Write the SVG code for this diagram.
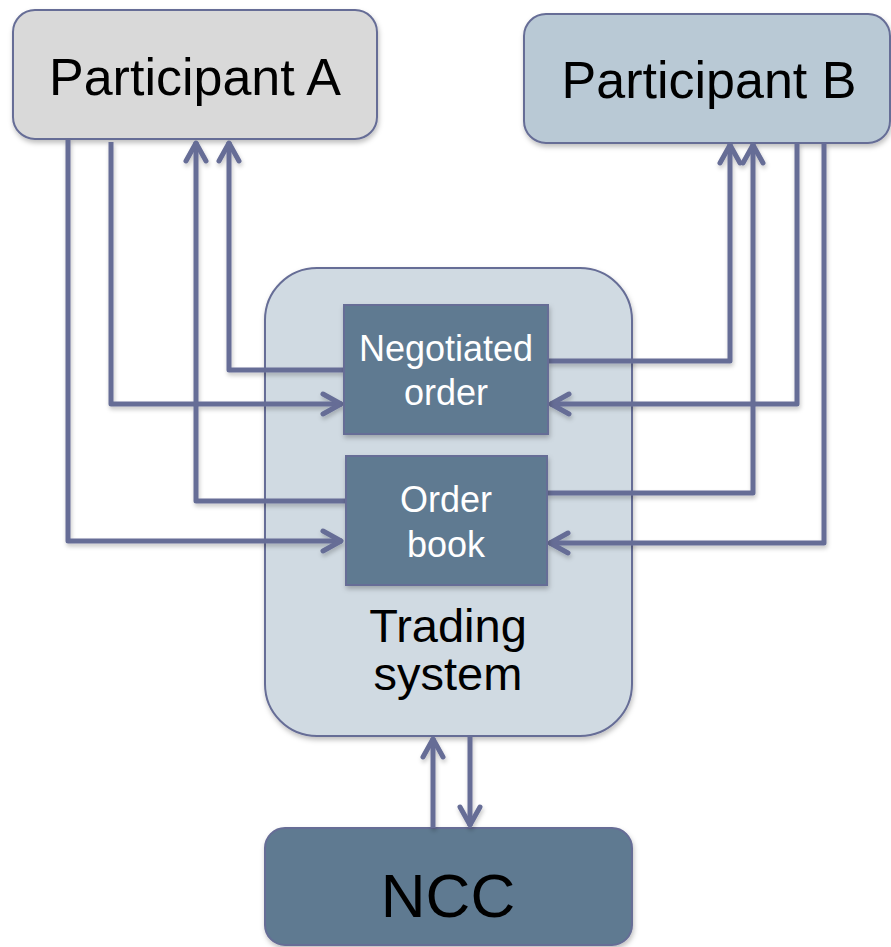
<svg xmlns="http://www.w3.org/2000/svg" width="891" height="947" viewBox="0 0 891 947">
<defs>
<filter id="sh" x="-10%" y="-10%" width="120%" height="130%">
<feDropShadow dx="1" dy="3" stdDeviation="2.5" flood-color="#000" flood-opacity="0.25"/>
</filter>
<filter id="shc" filterUnits="userSpaceOnUse" x="0" y="0" width="891" height="947">
<feDropShadow dx="1" dy="3" stdDeviation="2" flood-color="#000" flood-opacity="0.22"/>
</filter>
<marker id="arr" markerUnits="userSpaceOnUse" markerWidth="30" markerHeight="30" viewBox="-25 -15 30 30" refX="0" refY="0" orient="auto">
<path d="M-19,-10 L-1,0 L-19,10" fill="none" stroke="#666d96" stroke-width="5" stroke-linecap="round" stroke-linejoin="round"/>
</marker>
</defs>
<style>
.box{stroke:#666d96;stroke-width:2;filter:url(#sh)}
.lbl{font-family:"Liberation Sans",Arial,sans-serif;text-anchor:middle}
.conn{filter:url(#shc)}
.conn path{fill:none;stroke:#666d96;stroke-width:5;stroke-linejoin:round}
</style>
<rect width="891" height="947" fill="#ffffff"/>
<g id="trading-system">
<rect class="box" x="265" y="268" width="367" height="468" rx="52" fill="#d0dae2"/>
<text class="lbl" x="448" y="642" font-size="47" fill="#000">Trading</text>
<text class="lbl" x="448" y="690" font-size="47" fill="#000">system</text>
</g>
<g id="participant-a">
<rect class="box" x="13" y="10" width="364" height="129" rx="22" fill="#d9d9d9"/>
<text class="lbl" x="195" y="95" font-size="52" fill="#000">Participant A</text>
</g>
<g id="participant-b">
<rect class="box" x="524" y="14" width="366" height="129" rx="22" fill="#b9c9d5"/>
<text class="lbl" x="709" y="98" font-size="52" fill="#000">Participant B</text>
</g>
<g id="ncc">
<rect class="box" x="265" y="828" width="367" height="117" rx="20" fill="#5e7a91"/>
<text class="lbl" x="448" y="917" font-size="62" fill="#000">NCC</text>
</g>
<g class="conn" id="connectors">
<path d="M68,139 V541 H342" marker-end="url(#arr)"/>
<path d="M111,142 V404 H342" marker-end="url(#arr)"/>
<path d="M346,501 H196 V142" marker-end="url(#arr)"/>
<path d="M344,370 H229 V142" marker-end="url(#arr)"/>
<path d="M548,361 H730 V144" marker-end="url(#arr)"/>
<path d="M547,493 H753 V144" marker-end="url(#arr)"/>
<path d="M797,143 V404 H550" marker-end="url(#arr)"/>
<path d="M824,143 V543 H549" marker-end="url(#arr)"/>
<path d="M433,828 V738" marker-end="url(#arr)"/>
<path d="M470,736 V826" marker-end="url(#arr)"/>
</g>
<g id="negotiated-order">
<rect class="box" x="344" y="305" width="204" height="129" fill="#5e7a91"/>
<text class="lbl" x="446" y="361" font-size="36" fill="#fff">Negotiated</text>
<text class="lbl" x="446" y="405" font-size="36" fill="#fff">order</text>
</g>
<g id="order-book">
<rect class="box" x="346" y="456" width="201" height="129" fill="#5e7a91"/>
<text class="lbl" x="446" y="512" font-size="36" fill="#fff">Order</text>
<text class="lbl" x="446" y="557" font-size="36" fill="#fff">book</text>
</g>
</svg>
